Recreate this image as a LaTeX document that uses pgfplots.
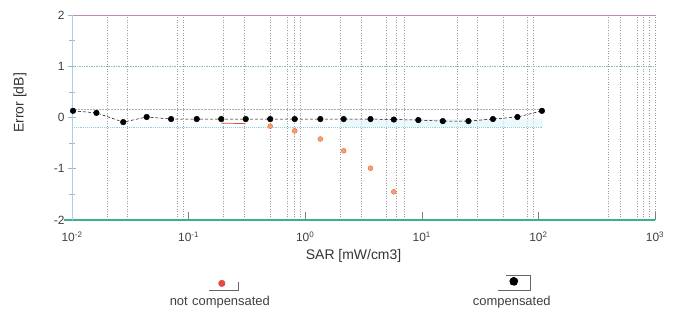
\documentclass[border=0pt]{standalone}
\usepackage{fontspec}
\setmainfont{Liberation Sans}
\usepackage{pgfplots}
\pgfplotsset{compat=1.18}
\definecolor{toppurple}{HTML}{C08AB4}
\definecolor{botgreen}{HTML}{3DAE8E}
\definecolor{leftblue}{HTML}{A8D0E8}
\definecolor{onegreen}{HTML}{8FBF9F}
\definecolor{bandcyan}{HTML}{86D2E2}
\definecolor{ncfill}{HTML}{F3A06A}
\definecolor{ncdraw}{HTML}{E0704A}
\definecolor{ncred}{HTML}{E5483E}
\definecolor{gridgray}{HTML}{9A9A9A}
\begin{document}
\begin{tikzpicture}
\useasboundingbox (0,0) rectangle (678bp,313bp);
\begin{axis}[
  at={(72bp,93bp)}, anchor=south west,
  scale only axis, width=583bp, height=205bp,
  xmode=log, xmin=1e-2, xmax=1e3, ymin=-2, ymax=2,
  axis line style={draw=none},
  clip=false,
  xtick={1e-2,1e-1,1e0,1e1,1e2,1e3},
  xticklabels={10\textsuperscript{-2},10\textsuperscript{-1},10\textsuperscript{0},10\textsuperscript{1},10\textsuperscript{2},10\textsuperscript{3}},
  minor xtick={0.02,0.03,0.08,0.09,0.2,0.3,0.5,0.7,0.8,0.9,2,3,5,6,7,20,30,50,80,90,400,500,700,800,900,1000},
  xminorgrids,
  minor x grid style={gridgray, dash pattern=on 1pt off 1.6pt, line width=0.45pt},
  minor tick length=0pt,
  xtick pos=bottom, ytick pos=left,
  x tick style={gray, line width=0.6pt},
  major tick length=8bp,
  xtick align=inside,
  ytick={-2,-1,0,1,2},
  yticklabels={-2,-1,0,1,2},
  y tick style={leftblue!70!gray, line width=0.6pt},
  ytick align=center,
  extra y ticks={-1.5,-0.5,0.5,1.5},
  extra y tick labels={},
  extra y tick style={major tick length=6bp, tick align=center},
  ticklabel style={font=\fontsize{12}{14}\selectfont, text=black!75},
  xticklabel style={yshift=-8bp},
  xlabel={SAR [mW/cm3]},
  ylabel={Error [dB]},
  label style={font=\fontsize{14}{16}\selectfont, text=black!80},
  xlabel style={at={(axis description cs:0.483,0)}, anchor=center, yshift=-36bp},
  ylabel style={at={(axis description cs:-0.089,0.571)}, anchor=center},
  legend columns=2,
  legend style={at={(0.504,-0.35)}, anchor=north, draw=none, fill=none,
    font=\fontsize{13}{15}\selectfont,
    nodes={text width=120bp, align=center, text=black!75},
    /tikz/every even column/.append style={column sep=168bp}},
  legend cell align=center,
]
% frame / reference lines
\draw[toppurple, line width=0.9pt] (axis cs:1e-2,2) -- (axis cs:1e3,2);
\draw[botgreen, line width=1.1pt] (axis cs:0.0085,-2) -- (axis cs:1e3,-2);
\draw[leftblue, line width=0.8pt] (axis cs:1e-2,-2) -- (axis cs:1e-2,2);
\draw[onegreen, densely dotted, line width=0.7pt] (axis cs:1e-2,1) -- (axis cs:1e3,1);
\draw[gridgray!80, densely dotted, line width=0.5pt] (axis cs:1e-2,0.17) -- (axis cs:110,0.17);
\draw[bandcyan, densely dotted, line width=0.9pt] (axis cs:1e-2,-0.19) -- (axis cs:110,-0.19);
\fill[bandcyan!25, opacity=0.6] (axis cs:2,-0.02) rectangle (axis cs:110,-0.19);
% not compensated
\addplot[ncred, line width=0.7pt, forget plot] coordinates {(0.1905,-0.11) (0.309,-0.12)};
\addplot[only marks, mark=*, mark size=2.5bp, mark options={fill=ncfill, draw=ncdraw, line width=0.4pt},
  legend image code/.code={
    \fill[overlay, ncred] (62bp+2pt,18bp) circle (3.3bp);
    \draw[overlay, solid, black!60, line width=0.6pt] (62bp+2pt-13bp,11bp) -- (62bp+2pt+16bp,11bp) -- (62bp+2pt+16bp,19bp);
  }] coordinates {
  (0.501,-0.17) (0.813,-0.26) (1.349,-0.42) (2.138,-0.65) (3.631,-0.99) (5.754,-1.45)
};
\addlegendentry{not compensated}
% compensated
\addplot[black, line width=0.5pt, dash pattern=on 3pt off 2pt, mark=*, mark size=2.8bp,
  mark options={solid, fill=black},
  legend image code/.code={
    \fill[overlay, black] (62bp+2pt,20bp) circle (4.2bp);
    \draw[overlay, solid, black!60, line width=0.6pt] (62bp+2pt-16bp,11bp) -- (62bp+2pt+16bp,11bp) -- (62bp+2pt+16bp,26bp) -- (62bp+2pt-8bp,26bp);
  }] coordinates {
  (0.0102,0.13) (0.0162,0.09) (0.0275,-0.09) (0.0437,0.01) (0.0708,-0.03)
  (0.1175,-0.03) (0.1905,-0.03) (0.309,-0.03) (0.501,-0.03) (0.813,-0.03)
  (1.349,-0.03) (2.138,-0.03) (3.631,-0.03) (5.754,-0.04) (9.333,-0.05)
  (15.14,-0.07) (25.12,-0.07) (40.74,-0.03) (66.07,0.01) (107.2,0.13)
};
\addlegendentry{compensated}
\end{axis}
\end{tikzpicture}
\end{document}
